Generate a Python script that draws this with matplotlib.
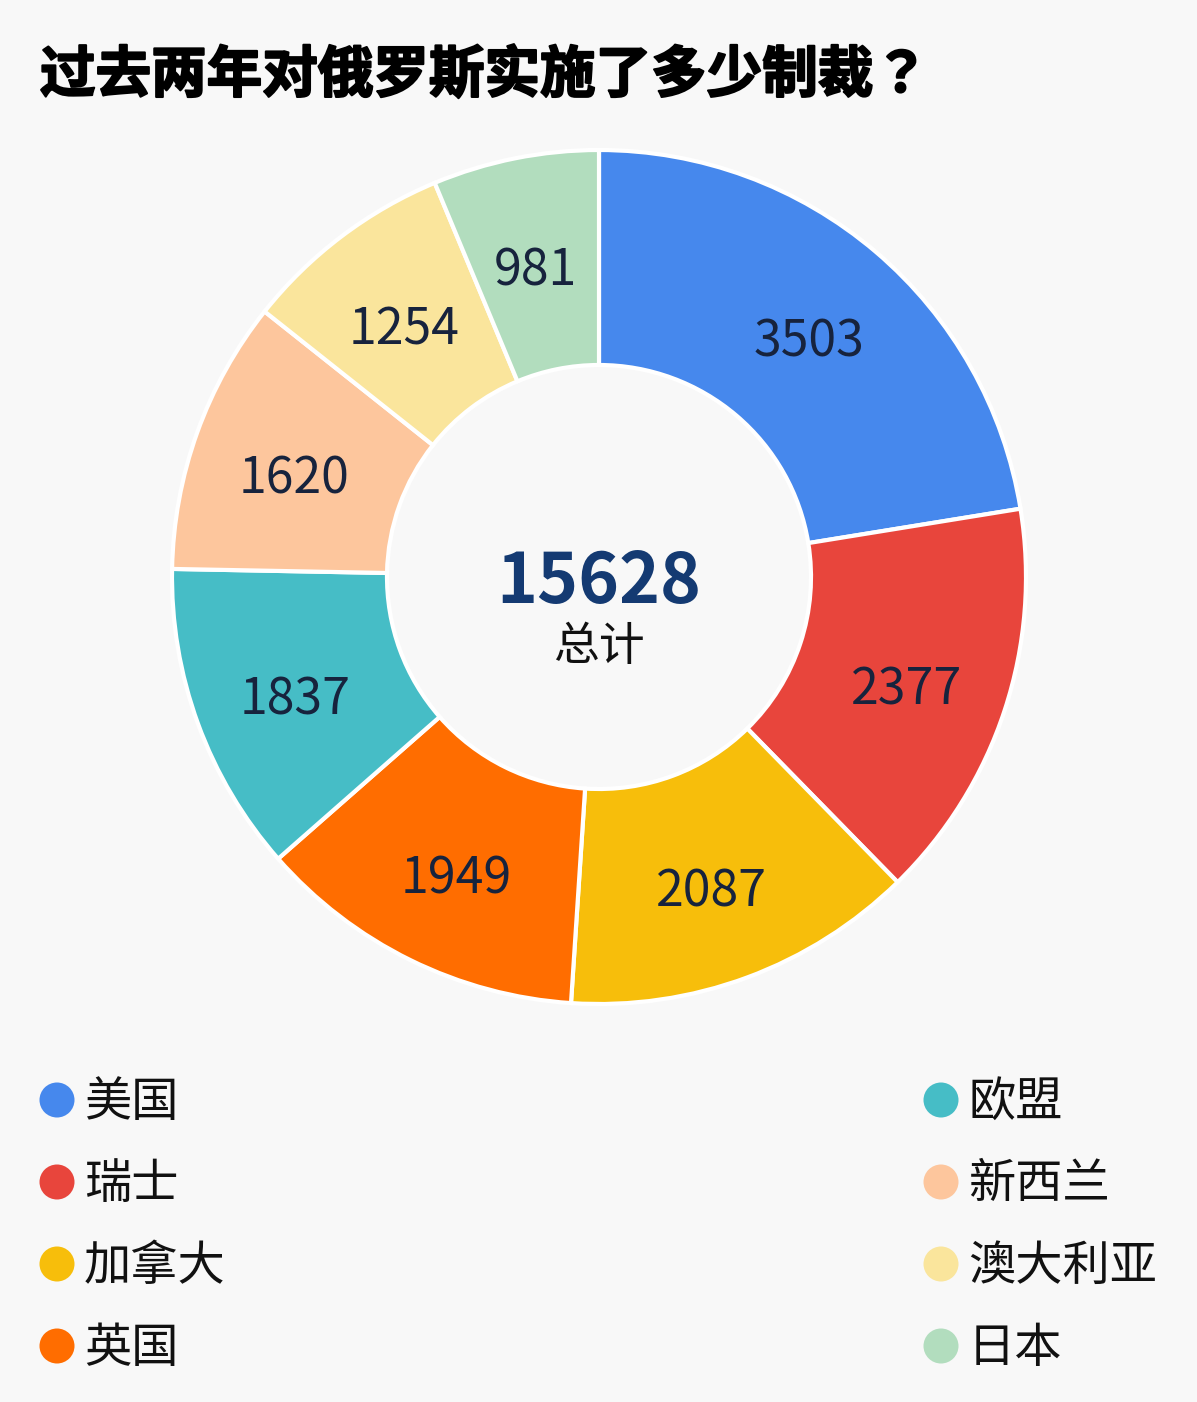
import matplotlib
matplotlib.use("Agg")
import matplotlib.pyplot as plt
import matplotlib.patheffects as pe
from matplotlib.patches import Circle
import numpy as np

plt.rcParams['font.family'] = ['Noto Sans CJK SC', 'DejaVu Sans']

# ---- data ----
title = "过去两年对俄罗斯实施了多少制裁？"
categories = ["美国", "瑞士", "加拿大", "英国", "欧盟", "新西兰", "澳大利亚", "日本"]
values = [3503, 2377, 2087, 1949, 1837, 1620, 1254, 981]
colors = ["#4688ED", "#E8453C", "#F7BE0B", "#FF6D00", "#46BDC6", "#FDC69D", "#FAE59C", "#B2DDBE"]
total_shown = 15628          # total as printed in the chart centre
center_label = "总计"

BG = "#F8F8F8"
W, H = 1197, 1402
fig = plt.figure(figsize=(W / 100, H / 100), dpi=100, facecolor=BG)

# pie axes: center at (599, 577) px, outer radius 427 px
cx, cy, R, Rin = 599, 577, 427, 212
half = 460
ax = fig.add_axes([(cx - half) / W, (H - cy - half) / H, 2 * half / W, 2 * half / H])
ax.set_facecolor(BG)
wedges, _ = ax.pie(values, colors=colors, startangle=90, counterclock=False,
                   radius=R, wedgeprops=dict(width=R - Rin, edgecolor="white", linewidth=3.0))
ax.set_xlim(-half, half)
ax.set_ylim(-half, half)
ax.set_aspect("equal")
ax.axis("off")

# value labels at mid-ring radius, slightly below the wedge's mid angle point
rlab = (R + Rin) / 2 + 4
for w, v in zip(wedges, values):
    ang = np.deg2rad((w.theta1 + w.theta2) / 2)
    ax.text(rlab * np.cos(ang), rlab * np.sin(ang) - 12, str(v), ha="center", va="center",
            fontsize=36, color="#17233D")

ax.text(0, -6, str(total_shown), ha="center", va="center", fontsize=50, fontweight="bold", color="#143A72")
ax.text(0, -70, center_label, ha="center", va="center", fontsize=33, color="#111111")

# overlay axes in pixel coordinates for title & legend
ov = fig.add_axes([0, 0, 1, 1])
ov.set_xlim(0, W)
ov.set_ylim(H, 0)
ov.axis("off")
ov.patch.set_alpha(0)

ov.text(40, 76, title, ha="left", va="center", fontsize=40, fontweight="bold", color="#000000",
        family=['Noto Sans CJK TC', 'DejaVu Sans'],
        path_effects=[pe.withStroke(linewidth=1.5, foreground="#000000")])

rows = 4
for i, (cat, col) in enumerate(zip(categories, colors)):
    colx = 57 if i < rows else 941
    y = 1100 + (i % rows) * 82
    ov.add_patch(Circle((colx, y), 17.5, color=col, lw=0))
    ov.text(colx + 27, y + 3, cat, ha="left", va="center", fontsize=34, color="#111111")

fig.savefig("out.png", dpi=100, facecolor=BG)
